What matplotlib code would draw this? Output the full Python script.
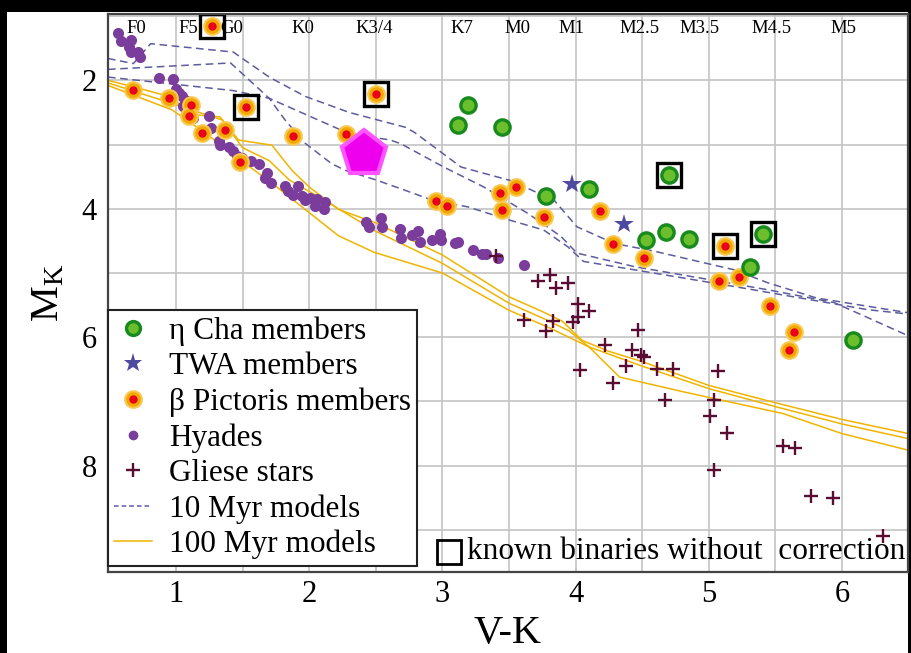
import matplotlib
matplotlib.use("Agg")
import matplotlib.pyplot as plt
from matplotlib.patches import Rectangle
from matplotlib.lines import Line2D

plt.rcParams['font.family'] = ['Liberation Serif', 'DejaVu Serif']
plt.rcParams['mathtext.fontset'] = 'custom'
plt.rcParams['mathtext.rm'] = 'Liberation Serif'
plt.rcParams['mathtext.it'] = 'Liberation Serif:italic'

# ---------------- data ----------------
etacha_vk = [3.19, 3.12, 3.45, 3.775, 4.10, 4.70, 4.53, 4.68, 4.85, 5.41, 5.31, 6.08]
etacha_mk = [2.39, 2.70, 2.72, 3.80, 3.69, 3.47, 4.48, 4.36, 4.47, 4.40, 4.91, 6.04]

twa_vk = [3.975, 4.36]
twa_mk = [3.62, 4.23]

bpic_vk = [0.675, 0.945, 1.115, 1.095, 1.195, 1.365, 1.27, 1.525, 1.48, 1.875, 2.28,
           2.50, 2.955, 3.035, 3.435, 3.555, 3.45, 3.765, 4.18, 4.28, 4.515, 5.12,
           5.075, 5.225, 5.46, 5.64, 5.60]
bpic_mk = [2.155, 2.27, 2.38, 2.56, 2.82, 2.78, 1.16, 2.41, 3.27, 2.87, 2.83,
           2.21, 3.885, 3.95, 3.76, 3.655, 4.025, 4.13, 4.035, 4.545, 4.77, 4.585,
           5.13, 5.055, 5.51, 5.92, 6.20]

hyades_vk = [0.565, 0.59, 0.66, 0.645, 0.665, 0.715, 0.73, 0.875, 0.98, 1.0, 1.025, 1.045,
             1.065, 1.05, 1.08, 1.13, 1.25, 1.265, 1.22, 1.32, 1.33, 1.40, 1.43, 1.46,
             1.495, 1.56, 1.625, 1.68, 1.665, 1.71, 1.82, 1.84, 1.915, 1.88, 1.945, 1.97,
             2.01, 2.06, 2.045, 2.12, 2.115, 2.43, 2.45, 2.54, 2.545, 2.68, 2.69, 2.77,
             2.82, 2.83, 2.92, 2.98, 2.99, 3.095, 3.12, 3.23, 3.295, 3.33, 3.42, 3.61]
hyades_mk = [1.27, 1.39, 1.37, 1.48, 1.565, 1.565, 1.64, 1.965, 1.98, 2.13, 2.20, 2.25,
             2.31, 2.40, 2.46, 2.59, 2.56, 2.74, 2.84, 2.95, 3.0, 3.04, 3.10, 3.18,
             3.21, 3.26, 3.30, 3.44, 3.52, 3.60, 3.65, 3.73, 3.64, 3.78, 3.80, 3.86,
             3.83, 3.85, 3.96, 3.90, 4.01, 4.21, 4.29, 4.15, 4.29, 4.31, 4.45, 4.41,
             4.34, 4.52, 4.49, 4.39, 4.49, 4.54, 4.52, 4.64, 4.70, 4.70, 4.76, 4.88]

gliese_vk = [3.40, 3.72, 3.81, 3.85, 3.94, 4.02, 4.10, 4.02, 3.98, 3.83, 3.61, 3.78,
             4.03, 4.22, 4.28, 4.47, 4.42, 4.49, 4.515, 4.38, 4.61, 4.73, 4.67, 5.07,
             5.04, 5.01, 5.14, 5.04, 5.56, 5.65, 5.77, 5.93, 6.31]
gliese_mk = [4.74, 5.13, 5.03, 5.24, 5.16, 5.48, 5.59, 5.68, 5.77, 5.74, 5.73, 5.90,
             6.51, 6.12, 6.72, 5.88, 6.20, 6.28, 6.31, 6.44, 6.49, 6.50, 6.97, 6.53,
             6.98, 7.23, 7.49, 8.06, 7.69, 7.73, 8.47, 8.50, 9.10]

# 10 Myr isochrones (dashed)
m10a_vk = [0.49, 0.68, 0.81, 1.43, 1.70, 1.97, 2.30, 2.72, 2.79, 3.14, 3.51, 3.84, 4.01,
           4.29, 4.59, 5.19, 5.44, 5.81, 6.50]
m10a_mk = [1.66, 1.74, 1.43, 1.56, 1.95, 2.25, 2.50, 2.73, 2.81, 3.35, 3.56, 3.87, 4.28,
           4.54, 4.66, 4.95, 5.15, 5.39, 5.62]
m10b_vk = [0.49, 1.41, 1.70, 1.82, 1.97, 2.17, 2.27, 2.50, 2.69, 2.93, 3.19, 3.51, 3.76,
           3.94, 4.06, 4.44, 5.19, 5.69, 6.19, 6.50]
m10b_mk = [1.83, 1.73, 2.28, 2.62, 2.98, 3.30, 3.40, 3.55, 3.69, 3.87, 3.97, 4.18, 4.33,
           4.59, 4.82, 4.95, 5.21, 5.39, 5.57, 5.64]
m10c_vk = [0.49, 1.43, 1.70, 2.07, 2.30, 2.61, 2.69, 3.01, 3.31, 3.64, 3.89, 4.01, 4.44,
           4.94, 5.44, 5.94, 6.50]
m10c_mk = [1.95, 2.16, 2.28, 2.62, 2.83, 2.93, 2.99, 3.35, 3.66, 4.07, 4.43, 4.69, 4.90,
           5.08, 5.26, 5.46, 5.98]

# 100 Myr isochrones (solid)
m100a_vk = [0.49, 0.75, 1.0, 1.05, 1.33, 1.47, 1.72, 1.87, 2.0, 2.22, 2.5, 3.0, 3.5,
            3.75, 3.9, 4.05, 4.25, 4.5, 5.0, 5.5, 6.0, 6.5]
m100a_mk = [2.00, 2.14, 2.28, 2.52, 2.57, 2.93, 3.01, 3.40, 3.66, 4.01, 4.22, 4.72, 5.37,
            5.60, 5.75, 6.05, 6.22, 6.38, 6.75, 7.02, 7.28, 7.50]
m100b_vk = [0.49, 1.0, 1.35, 1.5, 1.7, 1.85, 2.1, 2.5, 3.0, 3.5, 3.75, 3.95, 4.1, 4.3,
            4.5, 5.0, 5.5, 6.0, 6.5]
m100b_mk = [2.04, 2.38, 2.62, 3.05, 3.25, 3.55, 3.85, 4.35, 4.85, 5.47, 5.70, 5.90, 6.15,
            6.30, 6.45, 6.80, 7.08, 7.35, 7.58]
m100c_vk = [0.49, 0.97, 1.22, 1.47, 1.72, 1.97, 2.22, 2.49, 3.0, 3.5, 3.8, 4.1, 4.33,
            4.81, 5.56, 6.0, 6.5]
m100c_mk = [2.08, 2.46, 2.82, 3.22, 3.60, 4.01, 4.42, 4.68, 5.0, 5.58, 5.85, 6.15, 6.62,
            6.85, 7.19, 7.50, 7.76]

# special object and known binaries
special_vk = [2.41]
special_mk = [3.15]
binary_vk = [1.27, 1.525, 2.50, 5.12, 4.70, 5.41]
binary_mk = [1.16, 2.41, 2.21, 4.585, 3.47, 4.40]

sptype_labels = ['F0', 'F5', 'G0', 'K0', 'K3/4', 'K7', 'M0', 'M1', 'M2.5', 'M3.5', 'M4.5', 'M5']
sptype_vk = [0.70, 1.09, 1.42, 1.95, 2.49, 3.15, 3.56, 3.97, 4.48, 4.93, 5.47, 6.01]

xticks = [1, 2, 3, 4, 5, 6]
yticks = [2, 4, 6, 8]

# ---------------- figure ----------------
W, H = 911, 653
fig = plt.figure(figsize=(W / 100, H / 100), dpi=100, facecolor='black')
fig.add_artist(Rectangle((7 / W, 0), (908 - 7) / W, (H - 12) / H,
                         transform=fig.transFigure, facecolor='white',
                         edgecolor='none', zorder=-10))
ax = fig.add_axes([108 / W, 1 - 571.7 / H, 800 / W, 558.2 / H])
ax.set_facecolor('white')

ax.set_xlim(0.49, 6.495)
ax.set_ylim(9.65, 0.96)

# grid
for gx in [0.5 * i for i in range(2, 13)]:
    ax.axvline(gx, color='#c4c4c4', lw=1.2, zorder=0)
for gy in range(1, 10):
    ax.axhline(gy, color='#c4c4c4', lw=1.2, zorder=0)

dash_col = '#5c5c9e'
gold_col = '#f0b400'
for vk, mk in [(m10a_vk, m10a_mk), (m10b_vk, m10b_mk), (m10c_vk, m10c_mk)]:
    ax.plot(vk, mk, color=dash_col, lw=1.1, dashes=(5, 3), zorder=2)
for vk, mk in [(m100a_vk, m100a_mk), (m100b_vk, m100b_mk), (m100c_vk, m100c_mk)]:
    ax.plot(vk, mk, color=gold_col, lw=1.1, zorder=2)

hy_col = '#7a3d9c'
ax.plot(hyades_vk, hyades_mk, 'o', color=hy_col, ms=8, mew=0, zorder=3)
gl_col = '#5a0c32'
ax.plot(gliese_vk, gliese_mk, '+', color=gl_col, ms=10, mew=1.7, zorder=3)

ax.plot(bpic_vk, bpic_mk, 'o', color='#f2a800', mec='#f8c850', ms=12, mew=1.5, zorder=4)
ax.plot(bpic_vk, bpic_mk, 'o', color='#e8001c', ms=6, mew=0, zorder=5)

ax.plot(etacha_vk, etacha_mk, 'o', mfc='#6cbf2c', mec='#178a1e', ms=11, mew=2.4, zorder=4)
ax.plot(twa_vk, twa_mk, '*', color='#4e4aa0', ms=15, mew=0, zorder=4)

ax.plot(special_vk, special_mk, 'p', mfc='#ee00ee', mec='#ff55ff', ms=34, mew=3, zorder=6)

ax.plot(binary_vk, binary_mk, 's', mfc='none', mec='black', ms=17, mew=2.4, zorder=7)

for lab, x in zip(sptype_labels, sptype_vk):
    ax.text(x, 1.19, lab, ha='center', va='center', fontsize=13.5, zorder=8)

# axes styling
ax.set_xticks(xticks)
ax.set_yticks(yticks)
ax.tick_params(length=0, labelsize=22)
ax.tick_params(axis='x', pad=6)
ax.tick_params(axis='y', pad=8)
for s in ax.spines.values():
    s.set_color('#444444')
    s.set_linewidth(1.6)
    s.set_zorder(9)

fig.text(508 / W, 1 - 634 / H, 'V-K', ha='center', va='center', fontsize=29)
ax.set_ylabel(r'M$_{\mathrm{K}}$', fontsize=29, labelpad=10)

# known binaries note
ax.plot([0.426], [0.036], 's', mfc='none', mec='black', ms=17, mew=2.0,
        transform=ax.transAxes, zorder=8, clip_on=False)
ax.text(0.449, 0.036, 'known binaries without  correction', fontsize=22.5,
        transform=ax.transAxes, ha='left', va='center', zorder=8)

# legend
h_eta = Line2D([], [], ls='none', marker='o', mfc='#6cbf2c', mec='#178a1e', ms=10, mew=2.4)
h_twa = Line2D([], [], ls='none', marker='*', color='#4e4aa0', ms=14, mew=0)
h_bp1 = Line2D([], [], ls='none', marker='o', color='#f2a800', mec='#f8c850', ms=12, mew=1.5)
h_bp2 = Line2D([], [], ls='none', marker='o', color='#e8001c', ms=6, mew=0)
h_hy = Line2D([], [], ls='none', marker='o', color=hy_col, ms=7, mew=0)
h_gl = Line2D([], [], ls='none', marker='+', color=gl_col, ms=10, mew=1.7)
h_10 = Line2D([], [], color=dash_col, lw=1.1, dashes=(3, 2))
h_100 = Line2D([], [], color=gold_col, lw=1.1)
leg = ax.legend([h_eta, h_twa, (h_bp1, h_bp2), h_hy, h_gl, h_10, h_100],
                ['η Cha members', 'TWA members', 'β Pictoris members', 'Hyades',
                 'Gliese stars', '10 Myr models', '100 Myr models'],
                loc='lower left', bbox_to_anchor=(0.0, 0.011), borderaxespad=0,
                fontsize=22.5, frameon=True, fancybox=False, framealpha=1,
                edgecolor='#222222', handlelength=1.2, handletextpad=0.55,
                labelspacing=0.2, borderpad=0.2)
leg.get_frame().set_linewidth(1.5)
leg.set_zorder(10)

fig.savefig('out.png', dpi=100, facecolor='black')
